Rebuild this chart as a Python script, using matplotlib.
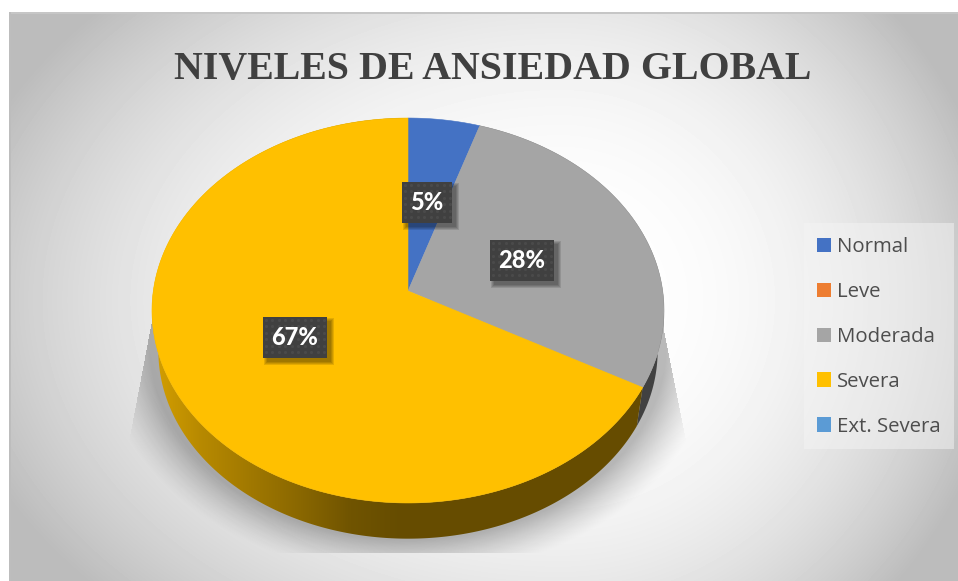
import numpy as np
import matplotlib
matplotlib.use("Agg")
import matplotlib.pyplot as plt
from matplotlib.patches import Polygon, Patch, Rectangle

# Chart content
TITLE = "NIVELES DE ANSIEDAD GLOBAL"
categories = ["Normal", "Leve", "Moderada", "Severa", "Ext. Severa"]
percentages = [5, 0, 28, 67, 0]
colors = ["#4472C4", "#ED7D31", "#A5A5A5", "#FFC000", "#5B9BD5"]
side_colors = {"Moderada": "#414141"}
label_centers = {"Normal": (427, 202), "Moderada": (522, 260), "Severa": (295, 337)}
label_widths = {"Normal": 50, "Moderada": 64, "Severa": 64}

W, H = 958, 581
PANEL_L, PANEL_T = 9, 12

# Perspective disc: apex, half-width, depth scale and foreshortening
CX, CY, AX, BY, K = 408.0, 291.0, 254.7, 190.5, 0.1013
SIDE_SCALE, SIDE_DROP = 0.975, 41.0


def project(theta):
    """Map clockwise angles from 12 o'clock on the unit disc to canvas points."""
    u, v = np.sin(theta), -np.cos(theta)
    w = 1 - K * v
    return CX + AX * u / w, CY + BY * v / w


def lower(x, y):
    """Same points on the lower rim of the disc."""
    return CX + (x - CX) * SIDE_SCALE, CY + (y - CY) * SIDE_SCALE + SIDE_DROP


fig = plt.figure(figsize=(W / 100, H / 100), dpi=100)
ax = fig.add_axes([0, 0, 1, 1])
yy, xx = np.mgrid[0:H, 0:W] + 0.5

# Panel background: soft radial fill, white in the middle
rx = np.where(xx < 560, 600.0, 430.0)
d = np.sqrt(((xx - 560) / rx) ** 2 + ((yy - 300) / 420) ** 2)
grey = 255 - 62 * np.minimum(d, 1.03) ** 2.5
ax.imshow(grey / 255, extent=(0, W, H, 0), cmap="gray", vmin=0, vmax=1,
          zorder=0, interpolation="bilinear")
ax.add_patch(Rectangle((0, 0), W, PANEL_T, fc="white", ec="none", zorder=1))
ax.add_patch(Rectangle((0, 0), PANEL_L, H, fc="white", ec="none", zorder=1))
ax.add_patch(Rectangle((PANEL_L, PANEL_T), W - PANEL_L, 1.6, fc="#c6c6c6", ec="none", zorder=1))
ax.add_patch(Rectangle((PANEL_L, PANEL_T), 1.8, H - PANEL_T, fc="#bdbdbd", ec="none", zorder=1))

# Cast shadow beneath the disc, cut off by a slanted frame
r = np.sqrt(((xx - CX) / 258) ** 2 + ((yy - 346) / 194) ** 2)
dist = np.clip((r - 1) * 230, 0, None)
shadow = 0.27 * np.clip(1 - dist / 44, 0, 1) ** 1.3
frame = (yy > 300) & (yy < 553) \
    & (xx > 156 - (yy - 300) * 0.19) & (xx < 664 + np.clip(yy - 330, 0, None) * 0.2)
rgba = np.zeros((H, W, 4))
rgba[..., 3] = shadow * frame
ax.imshow(rgba, extent=(0, W, H, 0), zorder=2, interpolation="bilinear")

# Slice angles from the percentages, clockwise from the top
total = sum(percentages)
edges = 2 * np.pi * np.concatenate([[0], np.cumsum(percentages)]) / total
slices = [(c, col, a, b) for c, col, a, b in
          zip(categories, colors, edges[:-1], edges[1:]) if b > a]

# Side wall, yellow shading darkens towards the front
for name, col, a, b in slices:
    t = np.linspace(a, b, 400)
    x, y = project(t)
    xl, yl = lower(x, y)
    pts = np.column_stack([np.r_[x, xl[::-1]], np.r_[y, yl[::-1]]])
    if name == "Severa":
        wall = Polygon(pts, closed=True, fc="none", ec="none", zorder=3)
        ax.add_patch(wall)
        ramp_x = np.arange(W) + 0.5
        tone = np.interp(ramp_x, [150, 200, 250, 300, 350, 400],
                         [0.84, 0.72, 0.63, 0.54, 0.44, 0.40])
        img = np.zeros((2, W, 3))
        img[..., 0] = tone
        img[..., 1] = tone * 0.75
        grad = ax.imshow(img, extent=(0, W, H, 0), zorder=3, aspect="auto")
        grad.set_clip_path(wall)
    elif name in side_colors:
        ax.add_patch(Polygon(pts, closed=True, fc=side_colors[name], ec="none", zorder=3))

# Top face of the disc
for name, col, a, b in slices:
    t = np.linspace(a, b, 400)
    x, y = project(t)
    ax.add_patch(Polygon(np.column_stack([np.r_[CX, x], np.r_[CY, y]]), closed=True,
                         fc=col, ec=col, lw=0.4, zorder=4))

# Value labels on dark dotted plates with a soft shadow
for name, val in zip(categories, percentages):
    if name not in label_centers:
        continue
    lx, ly = label_centers[name]
    bw, bh = label_widths[name], 41
    x0, y0 = lx - bw / 2, ly - bh / 2
    for grow in range(3, -1, -1):
        ax.add_patch(Rectangle((x0 + 4 - grow, y0 + 4 - grow), bw + 2 * grow, bh + 2 * grow,
                               fc="black", ec="none", alpha=0.11, zorder=5))
    ax.add_patch(Rectangle((x0, y0), bw, bh, fc="#404040", ec="none", zorder=6))
    gx, gy = np.meshgrid(np.arange(x0 + 3, x0 + bw, 6.5), np.arange(y0 + 3, y0 + bh, 6.5))
    ax.scatter(gx.ravel(), gy.ravel(), s=5, c="#4a4a4a", linewidths=0, zorder=7)
    ax.text(lx, ly + 0.5, f"{val}%", color="white", fontsize=17, fontweight="black",
            family="Lato", ha="center", va="center", zorder=8)

# Title
ax.text(493, 69, TITLE, family="Liberation Serif", fontweight="bold", fontsize=28.7,
        color="#404040", ha="center", va="center", zorder=9)

# Legend on a pale panel
ax.add_patch(Rectangle((804, 223), 150, 226, fc="#f4f4f4", ec="none", alpha=0.5, zorder=8))
handles = [Patch(fc=c, ec="none", label=n) for n, c in zip(categories, colors)]
leg = ax.legend(handles=handles, loc="upper left", bbox_to_anchor=(817, 237),
                bbox_transform=ax.transData, borderaxespad=0, borderpad=0,
                frameon=False, handlelength=0.7, handleheight=0.7, handletextpad=0.3,
                labelspacing=1.22, labelcolor="#4d4d4d",
                prop={"family": "Open Sans", "size": 14.7})
leg.set_zorder(9)

ax.set_xlim(0, W)
ax.set_ylim(H, 0)
ax.set_aspect("auto")
ax.axis("off")
fig.savefig("out.png", dpi=100)
